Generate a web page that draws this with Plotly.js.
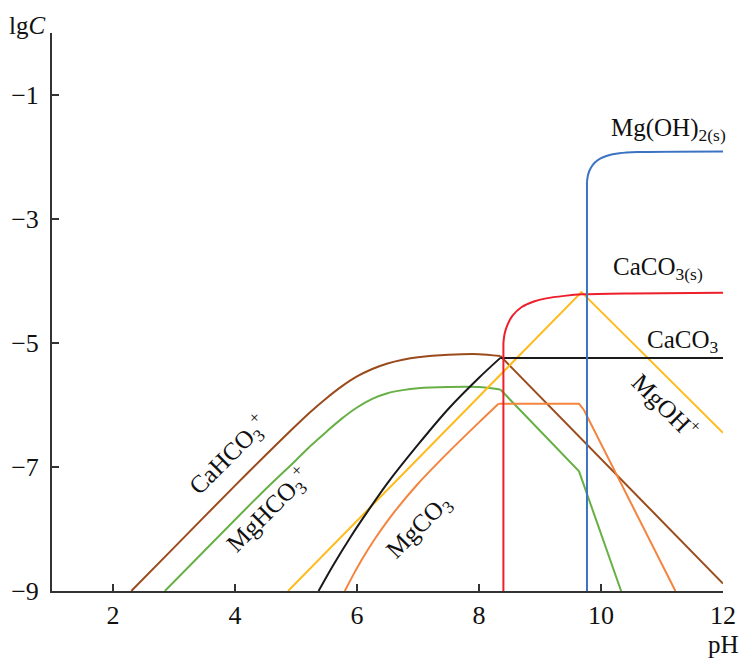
<!DOCTYPE html>
<html>
<head>
<meta charset="utf-8">
<script src="https://cdn.plot.ly/plotly-3.0.1.min.js"></script>
<style>html,body{margin:0;padding:0;background:#fff;}#chart{width:742px;height:659px;}</style>
</head>
<body>
<div id="chart"></div>
<script>
// CaHCO3+ (brown)
const caHCO3_pH = [2.3, 3.0, 4.0, 4.5, 5.0, 5.25, 5.5, 5.75, 6.0, 6.25, 6.5, 6.75, 7.0, 7.5, 8.0, 8.35, 12.0];
const caHCO3_lg = [-9.0, -8.3, -7.3, -6.81, -6.33, -6.1, -5.89, -5.7, -5.54, -5.42, -5.33, -5.27, -5.23, -5.19, -5.18, -5.21, -8.88];
// MgHCO3+ (green)
const mgHCO3_pH = [2.85, 4.0, 4.5, 5.0, 5.25, 5.5, 5.75, 6.0, 6.25, 6.5, 6.75, 7.0, 7.5, 8.0, 8.35, 9.64, 10.33];
const mgHCO3_lg = [-9.0, -7.85, -7.36, -6.89, -6.65, -6.43, -6.22, -6.04, -5.9, -5.81, -5.76, -5.73, -5.71, -5.71, -5.75, -7.07, -9.0];
// CaCO3 aq (black)
const caCO3_pH = [5.37, 5.6, 5.9, 6.2, 6.5, 7.0, 7.5, 8.0, 8.35, 12.0];
const caCO3_lg = [-9.0, -8.6, -8.12, -7.68, -7.26, -6.64, -6.06, -5.56, -5.24, -5.24];
// MgCO3 aq (orange)
const mgCO3_pH = [5.8, 5.95, 6.1, 6.3, 6.6, 7.0, 7.5, 8.0, 8.32, 9.64, 9.72, 11.22];
const mgCO3_lg = [-9.0, -8.72, -8.46, -8.15, -7.74, -7.27, -6.76, -6.28, -5.98, -5.98, -6.08, -9.0];
// MgOH+ (yellow)
const mgOH_pH = [4.87, 9.68, 12.0];
const mgOH_lg = [-9.0, -4.18, -6.45];
// CaCO3(s) (red)
const caCO3s_pH = [8.4, 8.4, 8.42, 8.47, 8.55, 8.7, 8.9, 9.1, 9.4, 9.7, 10.5, 12.0];
const caCO3s_lg = [-9.0, -5.0, -4.85, -4.7, -4.56, -4.42, -4.33, -4.28, -4.24, -4.215, -4.2, -4.19];
// Mg(OH)2(s) (blue)
const mgOH2s_pH = [9.77, 9.77, 9.79, 9.83, 9.9, 10.0, 10.1, 10.3, 10.6, 12.0];
const mgOH2s_lg = [-9.0, -2.4, -2.28, -2.18, -2.09, -2.02, -1.98, -1.94, -1.92, -1.91];

const xTicks = [2, 4, 6, 8, 10, 12];
const yTicks = [-1, -3, -5, -7, -9];

const F = "Liberation Serif, Times New Roman, serif";
// piece of a series: indices a..b inclusive, drawn linear or smoothed
function seg(x, y, a, b, color, shape) {
  return {x: x.slice(a, b + 1), y: y.slice(a, b + 1), mode: 'lines', type: 'scatter',
    line: {color: color, width: 2, shape: shape, smoothing: 0.8},
    hoverinfo: 'skip', showlegend: false};
}
const cBrown = '#9a4b1c', cGreen = '#67b045', cYellow = '#ffbb1c', cBlack = '#1a1a1a',
      cOrange = '#f4843e', cRed = '#ee1f2a', cBlue = '#3b73c2';
const data = [
  seg(caHCO3_pH, caHCO3_lg, 0, 15, cBrown, 'spline'),
  seg(caHCO3_pH, caHCO3_lg, 15, 16, cBrown, 'linear'),
  seg(mgHCO3_pH, mgHCO3_lg, 0, 14, cGreen, 'spline'),
  seg(mgHCO3_pH, mgHCO3_lg, 14, 16, cGreen, 'linear'),
  seg(mgOH_pH, mgOH_lg, 0, 2, cYellow, 'linear'),
  seg(caCO3_pH, caCO3_lg, 0, 8, cBlack, 'spline'),
  seg(caCO3_pH, caCO3_lg, 8, 9, cBlack, 'linear'),
  seg(mgCO3_pH, mgCO3_lg, 0, 8, cOrange, 'spline'),
  seg(mgCO3_pH, mgCO3_lg, 8, 11, cOrange, 'linear'),
  seg(caCO3s_pH, caCO3s_lg, 0, 1, cRed, 'linear'),
  seg(caCO3s_pH, caCO3s_lg, 1, 11, cRed, 'spline'),
  seg(mgOH2s_pH, mgOH2s_lg, 0, 1, cBlue, 'linear'),
  seg(mgOH2s_pH, mgOH2s_lg, 1, 9, cBlue, 'spline')
];

function ann(text, x, y, angle) {
  return {text: text, x: x, y: y, xref: 'x', yref: 'y', showarrow: false,
    textangle: angle, font: {family: F, size: 25, color: '#111'}, xanchor: 'center', yanchor: 'middle'};
}

const layout = {
  width: 742, height: 659,
  margin: {l: 52, r: 19, t: 33, b: 68},
  paper_bgcolor: '#fff', plot_bgcolor: '#fff',
  xaxis: {range: [1, 12], tickvals: xTicks, ticktext: xTicks.map(String), ticks: 'inside', ticklen: 7, tickwidth: 1.5,
    tickcolor: '#333', showline: true, linecolor: '#333', linewidth: 2, showgrid: false, zeroline: false,
    tickfont: {family: F, size: 26, color: '#111'}},
  yaxis: {range: [-9, 0], tickvals: yTicks, ticks: 'inside', ticklen: 7, tickwidth: 1.5,
    tickcolor: '#333', showline: true, linecolor: '#333', linewidth: 2, showgrid: false, zeroline: false,
    tickfont: {family: F, size: 26, color: '#111'}, ticklabelstandoff: 6},
  annotations: [
    {text: 'lg<i>C</i>', xref: 'paper', yref: 'paper', x: -0.037, y: 1.014, xanchor: 'center', yanchor: 'middle', showarrow: false,
      font: {family: F, size: 25, color: '#111'}},
    {text: 'pH', xref: 'paper', yref: 'paper', x: 1.0, y: -0.096, xanchor: 'center', yanchor: 'middle', showarrow: false,
      font: {family: F, size: 25, color: '#111'}},
    ann('Mg(OH)<sub>2(s)</sub>', 11.1, -1.55, 0),
    ann('CaCO<sub>3(s)</sub>', 10.93, -3.8, 0),
    ann('CaCO<sub>3</sub>', 11.34, -4.98, 0),
    ann('MgOH<sup>+</sup>', 11.07, -6.0, 45),
    ann('CaHCO<sub>3</sub><sup>+</sup>', 3.89, -6.81, -45),
    ann('MgHCO<sub>3</sub><sup>+</sup>', 4.54, -7.69, -45),
    ann('MgCO<sub>3</sub>', 7.02, -7.97, -45)
  ]
};

Plotly.newPlot('chart', data, layout, {staticPlot: true, displayModeBar: false});
</script>
</body>
</html>
